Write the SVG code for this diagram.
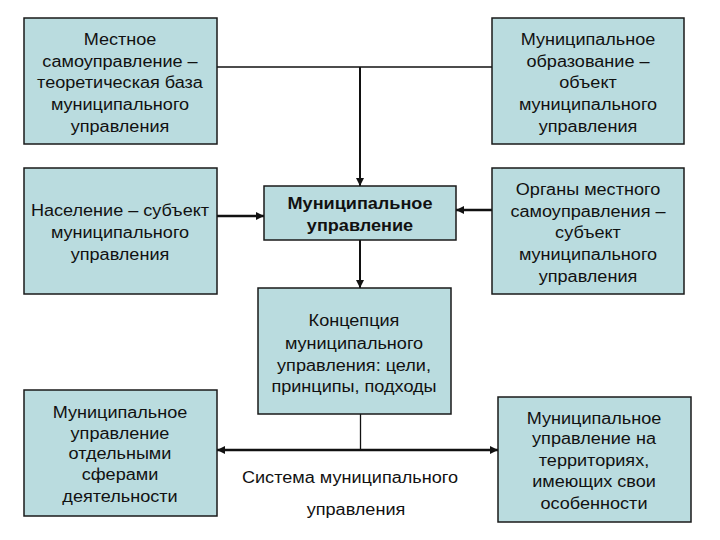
<svg xmlns="http://www.w3.org/2000/svg" width="720" height="540" viewBox="0 0 720 540">
<style>
.box{fill:#badcdf;stroke:#1a1a1a;stroke-width:1.5}
.t{font-family:"Liberation Sans",Arial,sans-serif;font-size:16px;fill:#111;text-anchor:middle}
.b{font-weight:bold}
.thin{stroke:#111;stroke-width:1.3;fill:none}
.thick{stroke:#111;stroke-width:2.5;fill:none}
</style>
<defs>
<marker id="ah" viewBox="0 0 10 10" refX="10" refY="5" markerWidth="4" markerHeight="4" orient="auto-start-reverse" markerUnits="strokeWidth">
<path d="M0,0 L10,5 L0,10 z" fill="#111"/>
</marker>
<marker id="ah2" viewBox="0 0 10 10" refX="10" refY="5" markerWidth="3.2" markerHeight="3.2" orient="auto-start-reverse" markerUnits="strokeWidth">
<path d="M0,0 L10,5 L0,10 z" fill="#111"/>
</marker>
</defs>
<rect width="720" height="540" fill="#fff"/>
<g id="connectors">
<path class="thin" d="M217,67 H492"/>
<path class="thick" d="M360,67 V186" style="stroke-width:2" marker-end="url(#ah)"/>
<path class="thick" d="M360,240 V288" style="stroke-width:2" marker-end="url(#ah)"/>
<path class="thick" d="M217,216 H264" marker-end="url(#ah2)"/>
<path class="thick" d="M492,210 H456" marker-end="url(#ah2)"/>
<path class="thin" d="M360.5,414 V450"/>
<path class="thick" d="M217,450 H498" marker-start="url(#ah2)" marker-end="url(#ah2)"/>
</g>
<g id="n1">
<rect class="box" x="24" y="18" width="193" height="126"/>
<g transform="translate(120,0) scale(1.13,1)"><text class="t"><tspan x="0" y="45">Местное</tspan><tspan x="0" y="67">самоуправление –</tspan><tspan x="0" y="88">теоретическая база</tspan><tspan x="0" y="110">муниципального</tspan><tspan x="0" y="132">управления</tspan></text></g>
</g>
<g id="n2">
<rect class="box" x="492" y="18" width="192" height="126"/>
<g transform="translate(588,0) scale(1.13,1)"><text class="t"><tspan x="0" y="45">Муниципальное</tspan><tspan x="0" y="67">образование –</tspan><tspan x="0" y="88">объект</tspan><tspan x="0" y="110">муниципального</tspan><tspan x="0" y="132">управления</tspan></text></g>
</g>
<g id="n3">
<rect class="box" x="24" y="168" width="193" height="126"/>
<g transform="translate(120,0) scale(1.13,1)"><text class="t"><tspan x="0" y="216">Население – субъект</tspan><tspan x="0" y="238">муниципального</tspan><tspan x="0" y="260">управления</tspan></text></g>
</g>
<g id="n4">
<rect class="box" x="264" y="186" width="192" height="54"/>
<g transform="translate(360,0) scale(1.13,1)"><text class="t b"><tspan x="0" y="209">Муниципальное</tspan><tspan x="0" y="231">управление</tspan></text></g>
</g>
<g id="n5">
<rect class="box" x="492" y="168" width="192" height="126"/>
<g transform="translate(588,0) scale(1.13,1)"><text class="t"><tspan x="0" y="195">Органы местного</tspan><tspan x="0" y="217">самоуправления –</tspan><tspan x="0" y="238">субъект</tspan><tspan x="0" y="260">муниципального</tspan><tspan x="0" y="282">управления</tspan></text></g>
</g>
<g id="n6">
<rect class="box" x="258" y="288" width="193" height="126"/>
<g transform="translate(354,0) scale(1.13,1)"><text class="t"><tspan x="0" y="326">Концепция</tspan><tspan x="0" y="349">муниципального</tspan><tspan x="0" y="371">управления: цели,</tspan><tspan x="0" y="392">принципы, подходы</tspan></text></g>
</g>
<g id="n7">
<rect class="box" x="24" y="390" width="193" height="126"/>
<g transform="translate(120,0) scale(1.13,1)"><text class="t"><tspan x="0" y="418">Муниципальное</tspan><tspan x="0" y="439">управление</tspan><tspan x="0" y="459">отдельными</tspan><tspan x="0" y="480">сферами</tspan><tspan x="0" y="502">деятельности</tspan></text></g>
</g>
<g id="n8">
<rect class="box" x="498" y="397" width="193" height="125"/>
<g transform="translate(594,0) scale(1.13,1)"><text class="t"><tspan x="0" y="424">Муниципальное</tspan><tspan x="0" y="444">управление на</tspan><tspan x="0" y="466">территориях,</tspan><tspan x="0" y="487">имеющих свои</tspan><tspan x="0" y="509">особенности</tspan></text></g>
</g>
<g id="label">
<g transform="translate(350,0) scale(1.13,1)"><text class="t"><tspan x="0" y="483">Система муниципального</tspan></text></g>
<g transform="translate(356,0) scale(1.13,1)"><text class="t"><tspan x="0" y="515">управления</tspan></text></g>
</g>
</svg>
